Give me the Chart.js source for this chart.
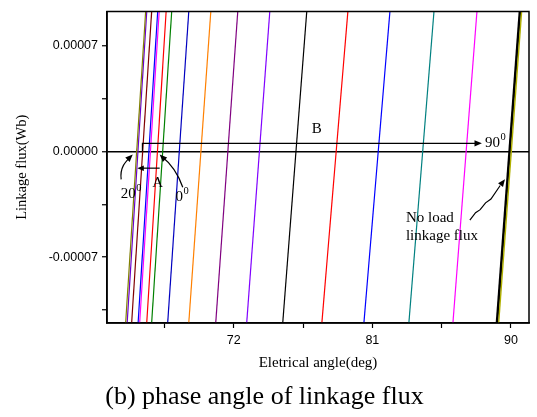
<!DOCTYPE html>
<html>
<head>
<meta charset="utf-8">
<script src="https://cdn.jsdelivr.net/npm/chart.js@4.4.0/dist/chart.umd.min.js"></script>
<style>
  html, body { margin: 0; padding: 0; background: #fff; }
  #wrap { width: 537px; height: 417px; }
</style>
</head>
<body>
<div id="wrap"><canvas id="chart" width="537" height="417"></canvas></div>
<script>
// flux range covered by each trace (bottom -> top of the plot)
const fluxRange = [-0.0001136, 0.0000928];

// electrical angle where each trace meets the bottom / top of the plot
const angleAtBottom = [64.98, 65.08, 65.37, 65.79, 65.89, 66.35, 66.67, 67.71, 69.08, 70.83, 72.84, 75.18, 77.72, 80.45, 83.37, 86.23, 89.09, 89.20];
const angleAtTop    = [66.28, 66.35, 66.67, 67.06, 67.16, 67.61, 67.97, 69.08, 70.51, 72.26, 74.34, 76.74, 79.41, 82.14, 85.00, 87.79, 90.58, 90.69];
const traceColors   = ['#808000', '#6a00d0', '#800000', '#0000ff', '#ff00ff', '#ff0000', '#008000', '#0000c0',
                       '#ff8000', '#800080', '#8000ff', '#000000', '#ff0000', '#0000ff', '#008080', '#ff00ff',
                       '#000000', '#b0b000'];
const traceWidths   = [1.2, 1.2, 1.2, 1.2, 1.2, 1.2, 1.2, 1.2, 1.2, 1.2, 1.2, 1.2, 1.2, 1.2, 1.2, 1.2, 2.6, 1.4];

const xTickValues = [67.5, 72, 76.5, 81, 85.5, 90];
const xTickLabels = ['', '72', '', '81', '', '90'];
const yTickValues = [-0.000105, -0.00007, -0.000035, 0, 0.000035, 0.00007];
const yTickLabels = ['', '-0.00007', '', '0.00000', '', '0.00007'];

const serif = '"Liberation Serif", "Times New Roman", serif';

const datasets = angleAtBottom.map((a, i) => ({
  data: [{x: a, y: fluxRange[0]}, {x: angleAtTop[i], y: fluxRange[1]}],
  borderColor: traceColors[i],
  borderWidth: traceWidths[i],
  pointRadius: 0,
  tension: 0,
  order: i === angleAtBottom.length - 1 ? -1 : 0
}));

function arrowHead(ctx, fx, fy, tx, ty, size) {
  const ang = Math.atan2(ty - fy, tx - fx);
  ctx.beginPath();
  ctx.moveTo(tx, ty);
  ctx.lineTo(tx - size * Math.cos(ang - 0.4), ty - size * Math.sin(ang - 0.4));
  ctx.lineTo(tx - size * Math.cos(ang + 0.4), ty - size * Math.sin(ang + 0.4));
  ctx.closePath();
  ctx.fill();
}

function textSup(ctx, txt, sup, x, y) {
  ctx.font = '15px ' + serif;
  ctx.textAlign = 'left';
  ctx.textBaseline = 'middle';
  ctx.fillText(txt, x, y);
  const w = ctx.measureText(txt).width;
  ctx.font = '10.5px ' + serif;
  ctx.fillText(sup, x + w + 0.5, y - 6);
}

const frameAndNotes = {
  id: 'frameAndNotes',
  afterDraw(chart) {
    const ctx = chart.ctx;
    const a = chart.chartArea;
    const X = v => chart.scales.x.getPixelForValue(v);
    const Y = v => chart.scales.y.getPixelForValue(v);
    ctx.save();
    ctx.strokeStyle = '#000';
    ctx.fillStyle = '#000';

    // box
    ctx.lineWidth = 1.5;
    ctx.strokeRect(a.left, a.top, a.right - a.left, a.bottom - a.top);

    ctx.lineWidth = 1.2;
    // B arrow
    ctx.beginPath();
    ctx.moveTo(X(66.07), Y(0));
    ctx.lineTo(X(66.07), Y(0.00000546));
    ctx.lineTo(X(88.11) - 6, Y(0.00000546));
    ctx.stroke();
    arrowHead(ctx, X(66.07), Y(0.00000546), X(88.11), Y(0.00000546), 8);

    // A arrow
    ctx.beginPath();
    ctx.moveTo(X(67.19), Y(-0.000011));
    ctx.lineTo(X(65.74) + 5, Y(-0.000011));
    ctx.stroke();
    arrowHead(ctx, X(67.19), Y(-0.000011), X(65.74), Y(-0.000011), 7);

    // 20 deg arrow
    ctx.beginPath();
    ctx.moveTo(X(64.69), Y(-0.0000184));
    ctx.bezierCurveTo(X(64.59), Y(-0.0000105), X(64.98), Y(-0.0000066), X(65.3), Y(-0.0000035));
    ctx.stroke();
    arrowHead(ctx, X(64.98), Y(-0.0000066), X(65.44), Y(-0.000002), 8);

    // 0 deg arrow
    ctx.beginPath();
    ctx.moveTo(X(68.69), Y(-0.0000237));
    ctx.quadraticCurveTo(X(68.23), Y(-0.0000105), X(67.35), Y(-0.0000035));
    ctx.stroke();
    arrowHead(ctx, X(67.75), Y(-0.0000075), X(67.19), Y(-0.000002), 8);

    // no load arrow
    ctx.beginPath();
    ctx.moveTo(X(87.33), Y(-0.0000454));
    ctx.lineTo(X(87.7), Y(-0.0000405));
    ctx.lineTo(X(88.0), Y(-0.0000385));
    ctx.lineTo(X(88.35), Y(-0.000034));
    ctx.lineTo(X(88.7), Y(-0.0000315));
    ctx.lineTo(X(89.3), Y(-0.0000225));
    ctx.stroke();
    arrowHead(ctx, X(88.9), Y(-0.000028), X(89.61), Y(-0.0000184), 8);

    // texts
    ctx.font = '15px ' + serif;
    ctx.textAlign = 'center';
    ctx.textBaseline = 'middle';
    ctx.fillText('B', X(77.39), Y(0.0000151));
    ctx.fillText('A', X(67.06), Y(-0.000021));
    textSup(ctx, '90', '0', X(88.31), Y(0.0000053));
    textSup(ctx, '20', '0', X(64.67), Y(-0.0000283));
    textSup(ctx, '0', '0', X(68.21), Y(-0.0000302));

    ctx.font = '15px ' + serif;
    ctx.textAlign = 'left';
    ctx.fillText('No load', X(83.18), Y(-0.000044));
    ctx.fillText('linkage flux', X(83.18), Y(-0.0000559));
    ctx.restore();
  }
};

new Chart(document.getElementById('chart'), {
  type: 'line',
  data: { datasets },
  options: {
    responsive: false,
    animation: false,
    layout: { padding: { top: 9, right: 8, left: 0, bottom: 0 } },
    plugins: {
      legend: { display: false },
      tooltip: { enabled: false },
      title: {
        display: true,
        position: 'bottom',
        text: '(b) phase angle of linkage flux',
        color: '#000',
        font: { family: serif, size: 26, weight: 'normal', lineHeight: 1.2 },
        padding: { top: 0, bottom: 4 }
      }
    },
    scales: {
      x: {
        type: 'linear',
        min: 63.77,
        max: 91.17,
        afterFit: s => { s.height = 58.8; },
        afterBuildTicks: s => { s.ticks = xTickValues.map(v => ({ value: v })); },
        ticks: {
          color: '#000',
          font: { family: '"Liberation Sans", Arial, sans-serif', size: 12.5 },
          padding: 5,
          maxRotation: 0,
          autoSkip: false,
          callback: (v, i) => xTickLabels[i]
        },
        grid: { drawOnChartArea: false, tickLength: 5, tickColor: '#000', tickWidth: 1.2 },
        border: { color: '#000', width: 1.5 },
        title: {
          display: true,
          text: 'Eletrical angle(deg)',
          color: '#000',
          font: { family: serif, size: 15, lineHeight: 1.2 },
          padding: { top: 0, bottom: 9.8 }
        }
      },
      y: {
        type: 'linear',
        min: fluxRange[0],
        max: fluxRange[1],
        afterFit: s => { s.width = 107; },
        afterBuildTicks: s => { s.ticks = yTickValues.map(v => ({ value: v })); },
        ticks: {
          color: '#000',
          font: { family: '"Liberation Sans", Arial, sans-serif', size: 12.5 },
          padding: 4,
          autoSkip: false,
          callback: (v, i) => yTickLabels[i]
        },
        grid: {
          color: c => (c.tick && c.tick.value === 0 ? '#000' : 'rgba(0,0,0,0)'),
          lineWidth: 1.5,
          tickLength: 5,
          tickColor: '#000',
          tickWidth: 1.2
        },
        border: { color: '#000', width: 1.5 },
        title: {
          display: true,
          text: 'Linkage flux(Wb)',
          color: '#000',
          font: { family: serif, size: 14.5, lineHeight: 1.2 },
          padding: { top: 13.3, bottom: 0 }
        }
      }
    }
  },
  plugins: [frameAndNotes]
});
</script>
</body>
</html>
